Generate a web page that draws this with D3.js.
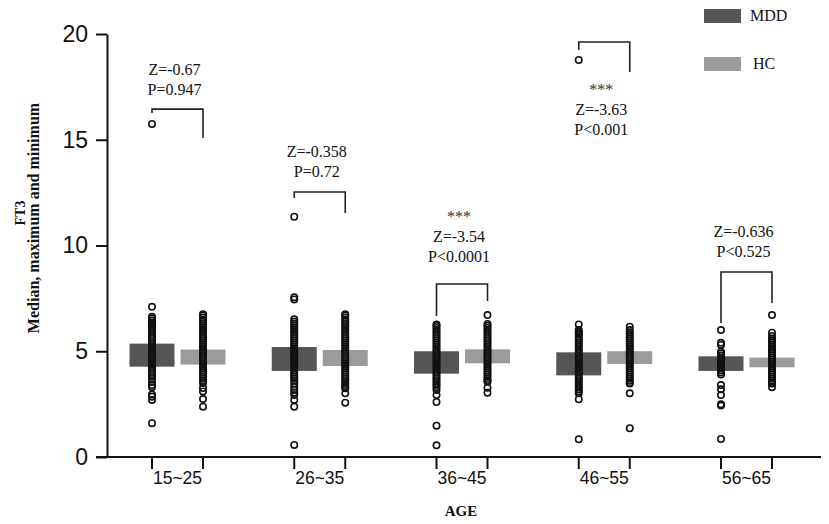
<!DOCTYPE html>
<html>
<head>
<meta charset="utf-8">
<script src="https://cdn.jsdelivr.net/npm/d3@7"></script>
<style>
  body { margin: 0; background: #fff; }
  svg { display: block; }
</style>
</head>
<body>
<div id="chart"></div>
<script>
// age groups and the two series
const ages = ['15~25', '26~35', '36~45', '46~55', '56~65'];
const series = ['MDD', 'HC'];
const yTicks = [0, 5, 10, 15, 20];

// bar extents (lower / upper edge of each bar)
const mddLow  = [4.27, 4.07, 3.94, 3.86, 4.07];
const mddHigh = [5.36, 5.20, 5.00, 4.95, 4.76];
const hcLow   = [4.37, 4.30, 4.43, 4.40, 4.24];
const hcHigh  = [5.08, 5.06, 5.09, 5.00, 4.70];

// individual FT3 values, one list per age group
const mddPoints = [
  [15.75, 7.1, 6.63, 6.55, 6.45, 6.35, 6.3, 6.2, 6.1, 6.0, 5.9, 5.8, 5.7, 5.6, 5.5, 5.4, 5.3, 5.2, 5.1, 5.0,
   4.9, 4.8, 4.7, 4.6, 4.5, 4.4, 4.3, 4.2, 4.1, 4.0, 3.9, 3.8, 3.7, 3.55, 3.4, 3.3, 2.95, 2.85, 2.7, 1.6],
  [11.36, 7.55, 7.45, 6.51, 6.4, 6.3, 6.2, 6.1, 6.0, 5.9, 5.8, 5.7, 5.6, 5.5, 5.4, 5.3, 5.2, 5.1, 5.0,
   4.9, 4.8, 4.7, 4.6, 4.5, 4.4, 4.3, 4.2, 4.1, 4.0, 3.9, 3.8, 3.7, 3.6, 3.48, 3.32, 3.17, 3.05, 2.93, 2.7, 2.38, 0.57],
  [6.27, 6.2, 6.1, 6.0, 5.9, 5.8, 5.7, 5.6, 5.5, 5.4, 5.3, 5.2, 5.1, 5.0, 4.9, 4.8, 4.7, 4.6, 4.5,
   4.4, 4.3, 4.2, 4.1, 4.0, 3.9, 3.8, 3.7, 3.6, 3.5, 3.4, 3.3, 3.17, 2.93, 2.6, 1.48, 0.55],
  [18.77, 6.27, 6.0, 5.92, 5.85, 5.8, 5.7, 5.6, 5.5, 5.4, 5.3, 5.2, 5.1, 5.0, 4.9, 4.8, 4.7, 4.6, 4.5,
   4.4, 4.3, 4.2, 4.1, 4.0, 3.9, 3.8, 3.7, 3.6, 3.5, 3.4, 3.3, 3.2, 3.1, 3.01, 2.73, 0.84],
  [6.0, 5.4, 5.3, 4.98, 4.9, 4.8, 4.7, 4.6, 4.5, 4.4, 4.3, 4.2, 4.1, 4.0, 3.9,
   3.4, 3.2, 2.93, 2.49, 2.43, 0.85]
];
const hcPoints = [
  [6.75, 6.7, 6.6, 6.5, 6.4, 6.3, 6.2, 6.1, 6.0, 5.9, 5.8, 5.7, 5.6, 5.5, 5.4, 5.3, 5.2, 5.1, 5.0, 4.9,
   4.8, 4.7, 4.6, 4.5, 4.4, 4.3, 4.2, 4.1, 4.0, 3.9, 3.8, 3.7, 3.6, 3.5, 3.26, 3.1, 2.74, 2.38],
  [6.75, 6.7, 6.6, 6.5, 6.4, 6.3, 6.2, 6.1, 6.0, 5.9, 5.8, 5.7, 5.6, 5.5, 5.4, 5.3, 5.2, 5.1, 5.0, 4.9,
   4.8, 4.7, 4.6, 4.5, 4.4, 4.3, 4.2, 4.1, 4.0, 3.9, 3.8, 3.7, 3.6, 3.5, 3.4, 3.3, 3.25, 3.01, 2.57],
  [6.71, 6.29, 6.2, 6.1, 6.0, 5.9, 5.8, 5.7, 5.6, 5.5, 5.4, 5.3, 5.2, 5.1, 5.0, 4.9, 4.8, 4.7, 4.6,
   4.5, 4.4, 4.3, 4.2, 4.1, 4.0, 3.9, 3.8, 3.7, 3.6, 3.56, 3.28, 3.04],
  [6.16, 6.0, 5.9, 5.8, 5.7, 5.6, 5.5, 5.4, 5.3, 5.2, 5.1, 5.0, 4.9, 4.8, 4.7, 4.6, 4.5, 4.4, 4.3,
   4.2, 4.1, 4.0, 3.9, 3.8, 3.7, 3.6, 3.5, 3.48, 3.01, 1.36],
  [6.71, 5.88, 5.72, 5.6, 5.5, 5.4, 5.3, 5.2, 5.1, 5.0, 4.9, 4.8, 4.7, 4.6, 4.5, 4.4, 4.3, 4.2,
   4.1, 4.0, 3.9, 3.8, 3.7, 3.6, 3.5, 3.48, 3.3]
];

// Mann-Whitney results per age group
const statLines = [
  ['Z=-0.67', 'P=0.947'],
  ['Z=-0.358', 'P=0.72'],
  ['***', 'Z=-3.54', 'P<0.0001'],
  ['***', 'Z=-3.63', 'P<0.001'],
  ['Z=-0.636', 'P<0.525']
];
// bracket levels in FT3 units: top bar, left foot, right foot
const bracketTop   = [16.45, 12.53, 8.18, 19.62, 8.75];
const bracketLeft  = [16.26, 12.25, 6.67, 19.24, 6.34];
const bracketRight = [15.08, 11.54, 7.38, 18.20, 7.28];
// FT3 level of the first text baseline
const statTextY = [18.06, 14.18, 11.11, 17.12, 10.40];

const colors = { MDD: '#555555', HC: '#9b9b9b' };
const serif = '"Liberation Serif", "Times New Roman", serif';
const sans = '"Liberation Sans", Arial, sans-serif';

const width = 829, height = 524;

const svg = d3.select('#chart')
  .append('svg')
  .attr('width', width)
  .attr('height', height);

svg.append('rect').attr('width', width).attr('height', height).attr('fill', '#fff');

const y = d3.scaleLinear().domain([0, 20]).range([457, 34]);
const xGroup = d3.scalePoint().domain(ages).range([177.5, 746.5]);
const xSub = d3.scalePoint().domain(series).range([-25.5, 25.5]);
const xPos = (age, s) => xGroup(age) + xSub(s);
const barWidth = 45;

// y axis
const yAxis = svg.append('g')
  .attr('transform', 'translate(107,0)')
  .call(d3.axisLeft(y).tickValues(yTicks).tickSize(11).tickSizeOuter(0).tickPadding(8));
yAxis.selectAll('path, line').attr('stroke', '#111').attr('stroke-width', 2);
yAxis.selectAll('text')
  .attr('font-family', sans)
  .attr('font-size', 23)
  .attr('fill', '#111');

// x axis: baseline + one tick per series
svg.append('line')
  .attr('x1', 96).attr('x2', 821)
  .attr('y1', y(0)).attr('y2', y(0))
  .attr('stroke', '#111').attr('stroke-width', 2);

const tickData = [];
ages.forEach(a => series.forEach(s => tickData.push({ age: a, s })));
svg.append('g').selectAll('line')
  .data(tickData)
  .enter().append('line')
  .attr('x1', d => xPos(d.age, d.s))
  .attr('x2', d => xPos(d.age, d.s))
  .attr('y1', y(0))
  .attr('y2', y(0) + 12)
  .attr('stroke', '#111').attr('stroke-width', 2);

svg.append('g').selectAll('text')
  .data(ages)
  .enter().append('text')
  .attr('x', d => xGroup(d))
  .attr('y', 484)
  .attr('text-anchor', 'middle')
  .attr('font-family', sans)
  .attr('font-size', 17.5)
  .attr('fill', '#111')
  .text(d => d);

// bars
const barData = [];
ages.forEach((a, i) => {
  barData.push({ age: a, s: 'MDD', low: mddLow[i], high: mddHigh[i] });
  barData.push({ age: a, s: 'HC', low: hcLow[i], high: hcHigh[i] });
});
svg.append('g').selectAll('rect')
  .data(barData)
  .enter().append('rect')
  .attr('x', d => xPos(d.age, d.s) - barWidth / 2)
  .attr('y', d => y(d.high))
  .attr('width', barWidth)
  .attr('height', d => y(d.low) - y(d.high))
  .attr('fill', d => colors[d.s]);

// points
const pointData = [];
ages.forEach((a, i) => {
  mddPoints[i].forEach(v => pointData.push({ age: a, s: 'MDD', v }));
  hcPoints[i].forEach(v => pointData.push({ age: a, s: 'HC', v }));
});
svg.append('g').selectAll('circle')
  .data(pointData)
  .enter().append('circle')
  .attr('cx', d => xPos(d.age, d.s))
  .attr('cy', d => y(d.v))
  .attr('r', 3.2)
  .attr('fill', 'none')
  .attr('stroke', '#111')
  .attr('stroke-width', 1.6);

// significance brackets
svg.append('g').selectAll('path')
  .data(ages)
  .enter().append('path')
  .attr('d', (a, i) => {
    let l = xPos(a, 'MDD'), r = xPos(a, 'HC');
    return 'M' + l + ',' + y(bracketLeft[i]) +
      'V' + y(bracketTop[i]) + 'H' + r + 'V' + y(bracketRight[i]);
  })
  .attr('fill', 'none')
  .attr('stroke', '#222')
  .attr('stroke-width', 1.6);

const stats = svg.append('g').selectAll('text')
  .data(ages)
  .enter().append('text')
  .attr('font-family', serif)
  .attr('font-size', 16)
  .attr('fill', '#111')
  .attr('text-anchor', 'middle');
stats.each(function(a, i) {
  let t = d3.select(this);
  statLines[i].forEach((line, j) => {
    t.append('tspan')
      .attr('x', xGroup(a) - 3)
      .attr('y', y(statTextY[i]) + j * 20)
      .attr('fill', line === '***' ? '#333' : '#111')
      .text(line);
  });
});

// legend
const legend = svg.append('g').selectAll('g')
  .data(series)
  .enter().append('g')
  .attr('transform', (d, i) => 'translate(704,' + (9 + i * 48) + ')');
legend.append('rect')
  .attr('width', 37).attr('height', 14)
  .attr('fill', d => colors[d]);
legend.append('text')
  .attr('x', (d, i) => 46 + i * 3)
  .attr('y', 12)
  .attr('font-family', serif)
  .attr('font-size', 16)
  .attr('fill', '#111')
  .text(d => d);

// axis titles
svg.append('text')
  .attr('transform', 'translate(25,213) rotate(-90)')
  .attr('text-anchor', 'middle')
  .attr('font-family', serif)
  .attr('font-weight', 'bold')
  .attr('font-size', 14)
  .attr('fill', '#111')
  .text('FT3');
svg.append('text')
  .attr('transform', 'translate(39,218) rotate(-90)')
  .attr('text-anchor', 'middle')
  .attr('font-family', serif)
  .attr('font-weight', 'bold')
  .attr('font-size', 16)
  .attr('fill', '#111')
  .text('Median, maximum and minimum');
svg.append('text')
  .attr('x', 461)
  .attr('y', 516)
  .attr('text-anchor', 'middle')
  .attr('font-family', serif)
  .attr('font-weight', 'bold')
  .attr('font-size', 15)
  .attr('fill', '#111')
  .text('AGE');
</script>
</body>
</html>
